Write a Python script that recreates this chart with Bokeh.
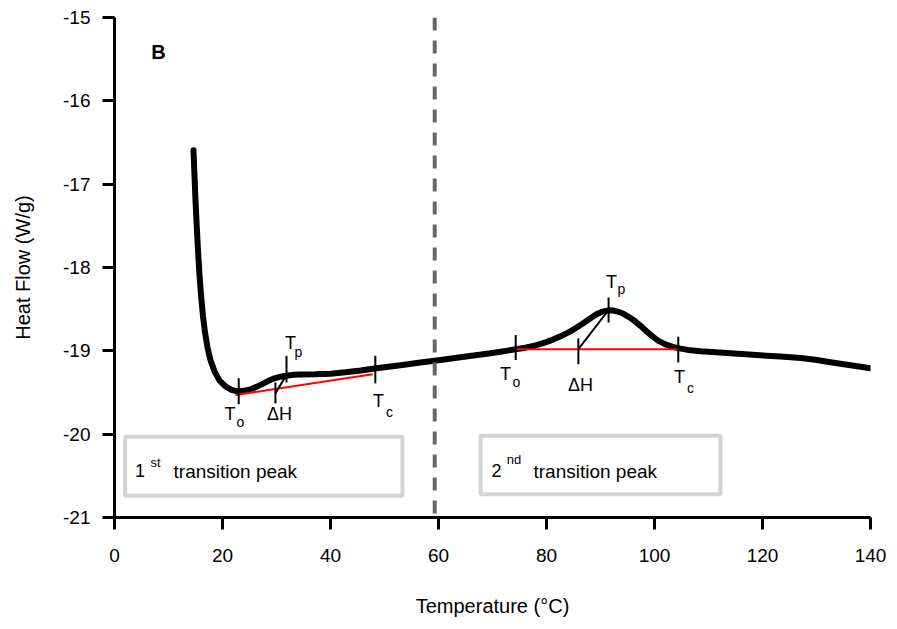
from bokeh.plotting import figure
from bokeh.models import Range1d, FixedTicker, Span
from bokeh.core.properties import value
from bokeh.embed import file_html
from bokeh.resources import INLINE

# ---- data ----
temp = [14.63, 14.81, 15.00, 15.22, 15.46, 15.74, 16.06, 16.39, 16.76, 17.22,
        17.78, 18.52, 19.44, 20.56, 21.67, 22.78, 23.89, 25.19, 26.30, 27.41,
        28.52, 29.63, 30.74, 31.85, 33.15, 34.44, 37.22, 40.00, 42.78, 45.56,
        48.52, 52.96, 56.67, 60.37, 64.07, 69.63, 74.26, 76.11, 77.96, 79.81,
        81.30, 82.59, 84.07, 85.37, 86.67, 88.15, 89.26, 90.37, 91.48, 92.41,
        93.33, 94.26, 95.19, 96.30, 97.41, 98.52, 99.63, 100.74, 102.04, 103.33,
        104.63, 106.67, 108.52, 111.30, 114.07, 116.85, 119.63, 123.33, 127.04, 129.81,
        132.59, 136.30, 140.00]
heat_flow = [-16.592, -16.892, -17.192, -17.492, -17.793, -18.093, -18.357, -18.586, -18.778, -18.958,
             -19.114, -19.246, -19.354, -19.426, -19.468, -19.486, -19.480, -19.462, -19.432, -19.396,
             -19.360, -19.330, -19.310, -19.298, -19.288, -19.285, -19.282, -19.274, -19.258, -19.237,
             -19.210, -19.174, -19.141, -19.109, -19.078, -19.030, -18.982, -18.962, -18.934, -18.898,
             -18.862, -18.826, -18.778, -18.730, -18.676, -18.610, -18.562, -18.529, -18.514, -18.517,
             -18.532, -18.556, -18.592, -18.640, -18.700, -18.766, -18.826, -18.880, -18.922, -18.952,
             -18.970, -18.994, -19.006, -19.018, -19.030, -19.042, -19.054, -19.068, -19.086, -19.108,
             -19.136, -19.174, -19.210]

x_ticks = [0, 20, 40, 60, 80, 100, 120, 140]
y_ticks = [-21, -20, -19, -18, -17, -16, -15]
y_tick_labels = ["-21", "-20", "-19", "-18", "-17", "-16", "-15"]
divider_temp = 59.3

# characteristic temperatures (To, dH, Tp, Tc) for each transition
mark_x = [23.0, 29.8, 31.85, 48.3, 74.3, 85.9, 91.5, 104.4]
mark_y0 = [-19.64, -19.63, -19.38, -19.39, -19.11, -19.16, -18.66, -19.14]
mark_y1 = [-19.33, -19.38, -19.06, -19.06, -18.81, -18.85, -18.36, -18.83]

# baselines (red) and dH connectors (black)
base_x0 = [22.4, 74.3]
base_y0 = [-19.53, -18.98]
base_x1 = [47.8, 104.4]
base_y1 = [-19.28, -18.98]
dh_x0 = [29.8, 85.9]
dh_y0 = [-19.51, -18.98]
dh_x1 = [31.85, 91.5]
dh_y1 = [-19.29, -18.51]

# labels
T_x = [32.6, 21.39, 48.89, 92.04, 72.41, 104.63]
T_y = [-18.90, -19.76, -19.60, -18.17, -19.28, -19.31]
sub_text = ["p", "o", "c", "p", "o", "c"]
sub_x = [34.07, 23.33, 50.93, 93.89, 74.44, 106.67]
sub_y = [-19.01, -19.85, -19.73, -18.26, -19.37, -19.44]
dh_label_x = [30.56, 86.30]
dh_label_y = [-19.76, -19.41]

box_left = [1.96, 67.8]
box_right = [53.33, 112.2]
box_top = [-20.03, -20.02]
box_bottom = [-20.74, -20.72]
num_text = ["1", "2"]
num_x = [4.72, 70.74]
num_y = [-20.44, -20.44]
sup_text = ["st", "nd"]
sup_x = [7.6, 74.0]
sup_y = [-20.34, -20.30]
peak_x = [10.93, 77.59]
peak_y = [-20.45, -20.45]

FONT = "Liberation Sans"

p = figure(width=897, height=629, x_range=Range1d(0, 140), y_range=Range1d(-21, -15),
           output_backend="svg", toolbar_location=None,
           min_border_left=114, min_border_right=27, min_border_top=17, min_border_bottom=112)
p.outline_line_color = None
p.grid.visible = False
p.background_fill_color = "white"

for ax in (p.xaxis[0], p.yaxis[0]):
    ax.axis_line_width = 3
    ax.axis_line_color = "black"
    ax.major_tick_line_width = 3
    ax.major_tick_out = 12
    ax.major_tick_in = 0
    ax.minor_tick_line_color = None
    ax.major_label_text_font = FONT
    ax.major_label_text_font_size = "19px"
    ax.major_label_text_color = "black"
    ax.axis_label_text_font = FONT
    ax.axis_label_text_font_size = "20px"
    ax.axis_label_text_font_style = "normal"
    ax.axis_label_text_color = "black"

p.xaxis.ticker = FixedTicker(ticks=x_ticks)
p.yaxis.ticker = FixedTicker(ticks=y_ticks)
p.yaxis.major_label_overrides = {float(t): lab for t, lab in zip(y_ticks, y_tick_labels)}
p.xaxis.axis_label = "Temperature (°C)"
p.yaxis.axis_label = "Heat Flow (W/g)"
p.xaxis.major_label_standoff = 19
p.xaxis.axis_label_standoff = 30
p.yaxis.major_label_standoff = 12
p.yaxis.axis_label_standoff = 26

# boxes
p.quad(left=box_left, right=box_right, top=box_top, bottom=box_bottom,
       fill_color="white", line_color="#d3d3d3", line_width=4)

# divider
p.add_layout(Span(location=divider_temp, dimension="height", line_color="#666666",
                  line_width=4, line_dash="13 10"))

# curve
p.line(temp, heat_flow, line_color="black", line_width=6, line_cap="round", line_join="round")

# baselines and connectors
p.segment(base_x0, base_y0, base_x1, base_y1, line_color="red", line_width=2)
p.segment(dh_x0, dh_y0, dh_x1, dh_y1, line_color="black", line_width=2)
p.segment(mark_x, mark_y0, mark_x, mark_y1, line_color="black", line_width=2)

# labels
p.text(T_x, T_y, text=["T"] * len(T_x), text_font=value(FONT), text_font_size="18px",
       text_align="center", text_baseline="middle", text_color="black")
p.text(sub_x, sub_y, text=sub_text, text_font=value(FONT), text_font_size="14px",
       text_align="center", text_baseline="middle", text_color="black")
p.text(dh_label_x, dh_label_y, text=["ΔH"] * len(dh_label_x), text_font=value(FONT),
       text_font_size="18px", text_align="center", text_baseline="middle", text_color="black")

p.text(num_x, num_y, text=num_text, text_font=value(FONT), text_font_size="18px",
       text_align="center", text_baseline="middle", text_color="black")
p.text(sup_x, sup_y, text=sup_text, text_font=value(FONT), text_font_size="13px",
       text_align="center", text_baseline="middle", text_color="black")
p.text(peak_x, peak_y, text=["transition peak"] * 2, text_font=value(FONT),
       text_font_size="19px", text_align="left", text_baseline="middle", text_color="black")

p.text([8.15], [-15.41], text=["B"], text_font=value(FONT), text_font_size="20px",
       text_font_style="bold", text_align="center", text_baseline="middle", text_color="black")

open("out.html", "w").write(file_html(p, INLINE))
